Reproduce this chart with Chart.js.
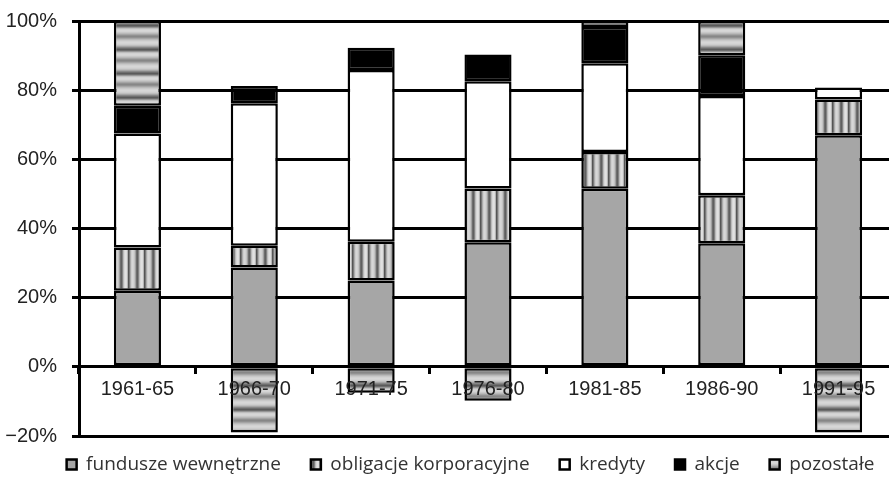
<!DOCTYPE html>
<html>
<head>
<meta charset="utf-8">
<script src="https://cdn.jsdelivr.net/npm/chart.js@4.4.1/dist/chart.umd.min.js"></script>
<style>
  html, body { margin: 0; padding: 0; overflow: hidden; background: #fff; }
  #wrap { width: 988px; height: 477px; }
</style>
</head>
<body>
<div id="wrap"><canvas id="c"></canvas></div>
<script>
const periods = ["1961-65", "1966-70", "1971-75", "1976-80", "1981-85", "1986-90", "1991-95"];
const fundusze = [22, 28.7, 25, 36, 51.5, 35.7, 67];
const obligacje = [12.5, 6.3, 11.2, 15.6, 10.6, 13.9, 10.3];
const kredyty = [33, 41.2, 49.6, 31, 25.7, 28.7, 3.5];
const akcje = [8, 5, 6.5, 7.7, 10.5, 11.8, null];
const pozostale = [24.5, -19, -7.5, -9.8, 1.7, 9.9, -19];
const yTicks = [-20, 0, 20, 40, 60, 80, 100];

const canvas = document.getElementById("c");
const ctx = canvas.getContext("2d");

// striped fills like the old excel gradient bars
function stripes(horizontal, grays) {
  const t = document.createElement("canvas");
  t.width = horizontal ? 1 : grays.length;
  t.height = horizontal ? grays.length : 1;
  const g = t.getContext("2d");
  grays.forEach((v, i) => {
    g.fillStyle = `rgb(${v},${v},${v})`;
    if (horizontal) g.fillRect(0, i, 1, 1);
    else g.fillRect(i, 0, 1, 1);
  });
  return ctx.createPattern(t, "repeat");
}

const vertPattern = stripes(false, [85, 120, 170, 205, 215, 210, 195, 160, 110, 95, 130, 185, 215, 225, 220, 180]);
const horizPattern = stripes(true, [110, 90, 110, 150, 190, 210, 215, 212, 200, 185, 165, 145,
                                    135, 145, 165, 185, 200, 210, 215, 212, 205, 190, 165, 135]);

const common = {
  borderColor: "#000",
  borderWidth: 2.5,
  borderSkipped: false,
  barPercentage: 0.403,
  categoryPercentage: 1
};

// nudge the legend to where the original one sits
const moveLegend = {
  id: "moveLegend",
  afterLayout(chart) {
    const l = chart.legend;
    l.left += 22; l.right += 22;
    l.top -= 11; l.bottom -= 11;
  }
};

new Chart(canvas, {
  type: "bar",
  data: {
    labels: periods,
    datasets: [
      { label: "fundusze wewnętrzne", data: fundusze, backgroundColor: "#a6a6a6", ...common },
      { label: "obligacje korporacyjne", data: obligacje, backgroundColor: vertPattern, ...common },
      { label: "kredyty", data: kredyty, backgroundColor: "#fff", ...common },
      { label: "akcje", data: akcje, backgroundColor: "#000", ...common },
      { label: "pozostałe", data: pozostale, backgroundColor: horizPattern, ...common }
    ]
  },
  plugins: [moveLegend],
  options: {
    responsive: true,
    maintainAspectRatio: false,
    devicePixelRatio: 1,
    animation: false,
    layout: { padding: { left: 0, top: 21, right: 91, bottom: -18 } },
    plugins: {
      tooltip: { enabled: false },
      legend: {
        position: "bottom",
        labels: {
          boxWidth: 10,
          boxHeight: 10,
          padding: 30,
          color: "#333",
          font: { family: "Open Sans", size: 19 }
        }
      }
    },
    scales: {
      x: {
        stacked: true,
        position: { y: 0 },
        afterFit: s => { s.height = 0; s.paddingLeft = 0; s.paddingRight = 0; },
        grid: { offset: true, drawOnChartArea: false, color: "#000", lineWidth: 3, tickLength: 6 },
        border: { color: "#000", width: 3, z: 1 },
        ticks: {
          z: 1,
          color: "#222",
          padding: 5,
          maxRotation: 0,
          autoSkip: false,
          font: { family: "Liberation Sans", size: 20 }
        }
      },
      y: {
        stacked: true,
        min: yTicks[0],
        max: yTicks[yTicks.length - 1],
        afterBuildTicks: s => { s.ticks = yTicks.map(v => ({ value: v })); },
        afterFit: s => { s.width = 79; s.paddingTop = 0; s.paddingBottom = 0; },
        grid: { color: "#000", lineWidth: 3, tickColor: "#000", tickLength: 7 },
        border: { color: "#000", width: 3 },
        ticks: {
          color: "#222",
          padding: 15,
          font: { family: "Liberation Sans", size: 20 },
          callback: v => (v < 0 ? "\u2212" + (-v) : v) + "%"
        }
      }
    }
  }
});
</script>
</body>
</html>
